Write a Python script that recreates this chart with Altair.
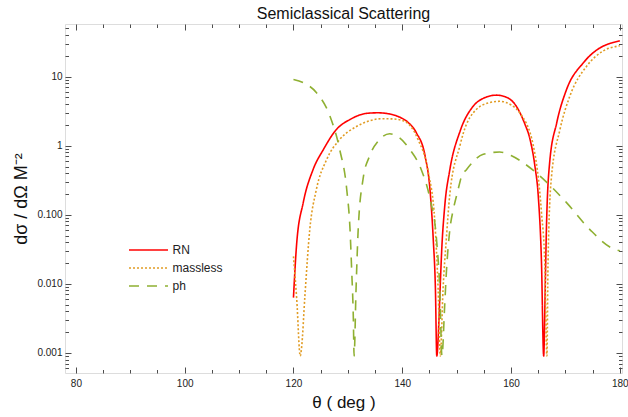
import altair as alt
import pandas as pd

# ---------------- data ----------------
series_names = ["RN", "massless", "ph"]

rn_theta = [120.0, 120.6, 121.8, 123.6, 125.5, 127.9, 130.4, 133.4, 135.5, 137.5,
            139.5, 141.0, 142.6, 144.2, 145.1, 145.7, 146.1, 146.35, 146.75, 147.0,
            147.25, 147.8, 148.75, 150.6, 153.0, 155.0, 157.3, 159.0, 161.0, 162.5,
            163.5, 164.4, 165.0, 165.6, 166.0, 166.3, 166.5, 167.1, 168.4, 170.2,
            173.3, 176.3, 178.0, 180.0]
rn_val = [0.0063, 0.039, 0.15, 0.45, 0.88, 1.72, 2.4, 2.94, 3.0, 2.9,
          2.6, 2.2, 1.54, 0.71, 0.23, 0.044, 0.0083, 0.0009, 0.003, 0.01,
          0.03, 0.13, 0.45, 1.6, 3.7, 4.9, 5.4, 5.1, 3.7, 2.1,
          1.23, 0.5, 0.19, 0.02, 0.0009, 0.01, 0.06, 0.57, 2.15, 6.5,
          15.9, 26.0, 30.0, 33.0]

ml_theta = [120.0, 120.6, 121.25, 121.5, 122.1, 123.0, 124.2, 126.1, 128.5, 131.6,
            134.0, 136.0, 138.0, 140.2, 142.9, 144.8, 146.0, 146.6, 147.0, 147.5,
            148.1, 148.75, 150.6, 151.2, 153.7, 156.0, 157.9, 160.0, 161.6, 164.1,
            165.6, 166.2, 166.6, 166.8, 167.4, 169.0, 170.8, 173.9, 176.9, 180.0]
ml_val = [0.025, 0.006, 0.0009, 0.0012, 0.0066, 0.061, 0.23, 0.63, 1.23, 1.9,
          2.3, 2.46, 2.45, 2.3, 1.23, 0.41, 0.077, 0.0083, 0.0009, 0.0083,
          0.044, 0.2, 1.0, 1.5, 3.4, 4.2, 4.4, 3.9, 3.0, 1.0,
          0.107, 0.02, 0.0009, 0.02, 0.33, 1.72, 5.2, 14.2, 23.5, 28.0]

ph_theta = [120.0, 121.8, 124.2, 126.7, 128.5, 129.8, 130.4, 130.7, 131.0, 131.15,
            131.5, 131.9, 132.8, 134.0, 135.6, 137.7, 139.5, 141.4, 143.5, 145.1,
            146.3, 146.9, 147.3, 147.8, 148.1, 148.75, 149.4, 150.2, 150.9, 151.8,
            154.9, 157.9, 160.0, 162.2, 165.9, 170.2, 174.5, 178.5, 180.0]
ph_val = [9.1, 8.2, 5.9, 2.7, 0.88, 0.23, 0.061, 0.016, 0.0034, 0.0009,
          0.008, 0.061, 0.33, 0.71, 1.17, 1.49, 1.3, 0.88, 0.45, 0.17,
          0.044, 0.0083, 0.0009, 0.0048, 0.014, 0.061, 0.12, 0.22, 0.36, 0.45,
          0.75, 0.81, 0.72, 0.57, 0.33, 0.15, 0.061, 0.033, 0.03]

x_major = [80, 100, 120, 140, 160, 180]
x_minor = [85, 90, 95, 105, 110, 115, 125, 130, 135, 145, 150, 155, 165, 170, 175]
y_major = [0.001, 0.01, 0.1, 1, 10]

# ---------------- table ----------------
rows = []
for name, th, vals in zip(series_names, [rn_theta, ml_theta, ph_theta], [rn_val, ml_val, ph_val]):
    for t, v in zip(th, vals):
        rows.append({"theta": t, "value": v, "series": name})
df = pd.DataFrame(rows)

x_dom = [78.0, 180.4]
y_dom = [0.00051, 58.0]
y_minor = [round(m * 10.0 ** e, 6) for e in range(-4, 2) for m in range(2, 10)]
y_minor = [v for v in y_minor if y_dom[0] <= v <= y_dom[1]]

FONT = "Liberation Sans"
FRAME = "#4d4d4d"


def xs():
    return alt.Scale(domain=x_dom, nice=False, zero=False)


def ys():
    return alt.Scale(type="log", domain=y_dom, nice=False)


def tick_axis(orient, values, size):
    return alt.Axis(orient=orient, values=values, tickSize=size, offset=-size,
                    labels=False, domain=False, grid=False, title=None,
                    ticks=True, tickColor=FRAME, tickWidth=1)


base = alt.Chart(df)

# long horizontal line symbol drawn from a small symbol size (keeps rows compact)
legend = alt.Legend(title=None, orient="none", legendX=77.5, legendY=220,
                    symbolType="M-4,0H4", symbolSize=95, symbolStrokeWidth=1.6,
                    labelFont=FONT, labelFontSize=12, labelColor="#222",
                    labelOffset=18, padding=0, rowPadding=6)

lines = base.mark_line(interpolate="monotone", strokeWidth=1.6, clip=True).encode(
    x=alt.X("theta:Q", scale=xs(),
            axis=alt.Axis(orient="bottom", values=x_major, ticks=False, tickSize=0,
                          domain=False, grid=False, labelPadding=5, labelFontSize=10,
                          labelFont=FONT, labelColor="#222", title="θ ( deg )",
                          titleFont=FONT, titleFontSize=17, titleFontWeight="normal",
                          titleColor="#111", titlePadding=6)),
    y=alt.Y("value:Q", scale=ys(),
            axis=alt.Axis(orient="left", values=y_major, ticks=False, tickSize=0,
                          domain=False, grid=False, labelPadding=3, labelFontSize=10,
                          labelFont=FONT, labelColor="#222",
                          labelExpr="datum.value >= 1 ? format(datum.value, 'd') : format(datum.value, '.3f')",
                          title="dσ / dΩ  M⁻²", titleFont=FONT, titleFontSize=18,
                          titleFontWeight="normal", titleColor="#111", titlePadding=6)),
    color=alt.Color("series:N", sort=series_names,
                    scale=alt.Scale(domain=series_names, range=["#FF0000", "#E19C24", "#8FB032"]),
                    legend=legend),
    strokeDash=alt.StrokeDash("series:N", sort=series_names,
                              scale=alt.Scale(domain=series_names, range=[[1, 0], [2, 2], [10, 8]]),
                              legend=legend),
)


def ghost(xax, yax):
    return base.mark_point(opacity=0).encode(
        x=alt.X("theta:Q", scale=xs(), axis=xax),
        y=alt.Y("value:Q", scale=ys(), axis=yax),
    )


chart = alt.layer(
    lines,
    ghost(tick_axis("bottom", x_major, 6), tick_axis("left", y_major, 6)),
    ghost(tick_axis("bottom", x_minor, 3.5), tick_axis("left", y_minor, 3.5)),
    ghost(tick_axis("top", x_major, 6), tick_axis("right", y_major, 6)),
    ghost(tick_axis("top", x_minor, 3.5), tick_axis("right", y_minor, 3.5)),
).resolve_axis(x="independent", y="independent").properties(
    width=557, height=349,
    autosize=alt.AutoSizeParams(type="none"),
    padding={"left": 65, "top": 24, "right": 6, "bottom": 44},
    title=alt.Title("Semiclassical Scattering", font=FONT, fontSize=16,
                    fontWeight="normal", color="#111", anchor="middle",
                    baseline="alphabetic", offset=4, dy=15.5),
).configure_view(stroke=FRAME, strokeWidth=1).configure(background="white")

chart.save("out.html", embed_options={"renderer": "svg", "actions": False})
